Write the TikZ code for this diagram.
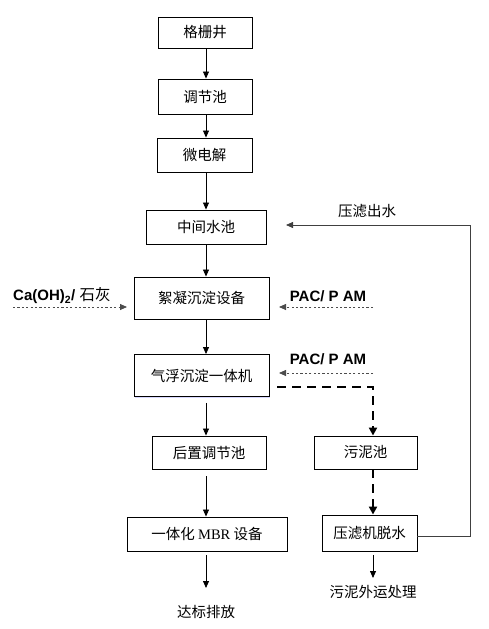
\documentclass[tikz,border=0pt]{standalone}
\usepackage{fontspec}
\setmainfont{Liberation Sans}
\newfontfamily\cjk{Noto Sans CJK SC}
\newfontfamily\tms{Liberation Serif}
\usetikzlibrary{arrows.meta,shadows}
\begin{document}
\begin{tikzpicture}[x=1pt,y=-1pt,
  box/.style={draw=black,line width=0.9pt,fill=white,inner sep=0pt,font=\cjk\fontsize{14.5}{16}\selectfont,
    drop shadow={shadow xshift=1.4pt,shadow yshift=-1.4pt,fill=blue!45,opacity=0.35}},
  lbl/.style={inner sep=0pt,font=\cjk\fontsize{14.5}{16}\selectfont},
  chem/.style={inner sep=0pt,font=\bfseries\fontsize{15}{17}\selectfont},
  arr/.style={draw=black,line width=0.8pt,-{Triangle[length=7pt,width=6pt]}},
  feed/.style={draw=black!75,line width=0.8pt,-{Triangle[length=7pt,width=6pt]}},
  thindash/.style={draw=black!70,line width=0.8pt,dash pattern=on 2.2pt off 2.2pt,-{Triangle[length=7pt,width=6pt]}},
  thickdash/.style={draw=black,line width=2.2pt,dash pattern=on 9pt off 6pt,-{Triangle[length=8pt,width=8pt]}}
]
\useasboundingbox (0,0) rectangle (489,629);
\coordinate (ax) at (206,0);
\coordinate (rx) at (373,0);

\node[box,minimum width=94pt,minimum height=31pt] (b1) at (205,32.5) {格栅井};
\node[box,minimum width=94pt,minimum height=35pt] (b2) at (205,96.5) {调节池};
\node[box,minimum width=95pt,minimum height=34pt] (b3) at (204.5,155) {微电解};
\node[box,minimum width=120pt,minimum height=34pt] (b4) at (206,227) {中间水池};
\node[box,minimum width=135pt,minimum height=42pt] (b5) at (201.5,298) {絮凝沉淀设备};
\node[box,minimum width=135pt,minimum height=42pt] (b6) at (201.5,375.5) {气浮沉淀一体机};
\node[box,minimum width=114pt,minimum height=33pt] (b7) at (209,452.5) {后置调节池};
\node[box,minimum width=160pt,minimum height=34pt] (b8) at (207,534) {一体化 {\tms MBR} 设备};
\node[box,minimum width=103pt,minimum height=33pt] (b9) at (365.5,452.5) {污泥池};
\node[box,minimum width=95pt,minimum height=36pt] (b10) at (369.5,533) {压滤机脱水};

\node[lbl] (out1) at (206,612) {达标排放};
\node[lbl] (out2) at (373,592) {污泥外运处理};
\node[lbl] (fl) at (367,211) {压滤出水};
\node[chem,anchor=west] (ca) at (13,296) {Ca(OH)\textsubscript{2}/ {\mdseries\cjk\fontsize{15.5}{17}\selectfont 石灰}};
\node[chem] (pac1) at (328,296) {PAC/ P AM};
\node[chem] (pac2) at (328,359) {PAC/ P AM};

\coordinate (caS) at (13,307);
\coordinate (caE) at (127,307);
\coordinate (p1S) at (373,307);
\coordinate (p1E) at (279,307);
\coordinate (p2S) at (373,373);
\coordinate (p2E) at (279,373);
\coordinate (sl) at (277,387);
\coordinate (slc) at (373,387);
\coordinate (fr) at (470,536);
\coordinate (fu) at (470,225);
\coordinate (fe) at (286,225);
\coordinate (o1) at (206,588);
\coordinate (o2) at (373,578);

\draw[arr] (b1.south -| ax) -- (b2.north -| ax);
\draw[arr] (b2.south -| ax) -- (b3.north -| ax);
\draw[arr] (b3.south -| ax) -- (b4.north -| ax);
\draw[arr] (b4.south -| ax) -- (b5.north -| ax);
\draw[arr] (b5.south -| ax) -- (b6.north -| ax);
\draw[arr,shorten <=6pt] (b6.south -| ax) -- (b7.north -| ax);
\draw[arr,shorten <=7pt] (b7.south -| ax) -- (b8.north -| ax);
\draw[arr,shorten <=4pt] (b8.south -| ax) -- (o1);

\draw[thindash] (caS) -- (caE);
\draw[thindash] (p1S) -- (p1E);
\draw[thindash] (p2S) -- (p2E);

\draw[thickdash] (sl) -- (slc) -- (b9.north -| rx);
\draw[thickdash] (b9.south -| rx) -- (b10.north -| rx);
\draw[arr,shorten <=4pt] (b10.south -| rx) -- (o2);

\draw[feed] (b10.east |- fr) -- (fr) -- (fu) -- (fe);
\end{tikzpicture}
\end{document}
